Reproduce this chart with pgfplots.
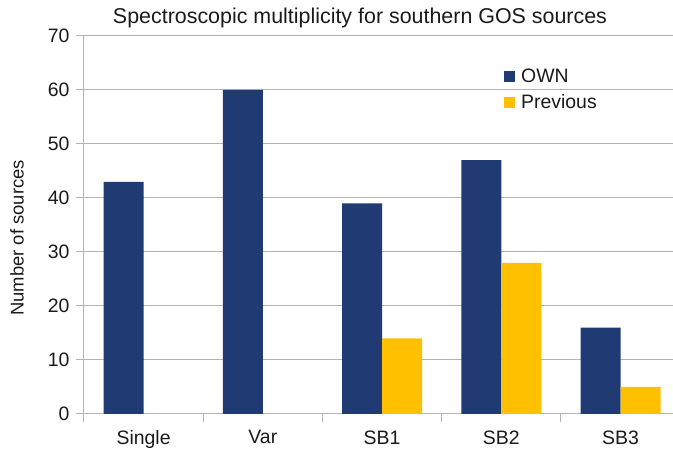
\documentclass[border=0pt]{standalone}
\usepackage{pgfplots}
\pgfplotsset{compat=1.18}
\usepackage{fontspec}
\setmainfont{Liberation Sans}
\definecolor{own}{HTML}{203B73}
\definecolor{prev}{HTML}{FFC000}
\definecolor{gridc}{HTML}{B3B3B3}
\definecolor{txt}{HTML}{1A1A1A}
\begin{document}
\begin{tikzpicture}
\begin{axis}[
 name=ax,
 scale only axis, width=589bp, height=378bp,
 xmin=-0.5, xmax=4.44, ymin=0, ymax=70,
 axis x line*=bottom, axis y line*=left,
 axis line style={gridc, line width=1bp, -},
 ytick={0,10,...,70},
 ymajorgrids, grid style={gridc, line width=1bp},
 xtick={0,1,2,3,4}, xticklabels={Single,Var,SB1,SB2,SB3},
 minor xtick={-0.5,0.5,1.5,2.5,3.5},
 major x tick style={draw=none},
 minor x tick style={gridc, line width=1bp},
 major y tick style={gridc, line width=1bp},
 tick align=outside,
 major tick length=8bp, minor tick length=8bp,
 tick label style={font=\fontsize{19.5}{23}\selectfont, text=txt},
 xticklabel style={yshift=-5bp},
 yticklabel style={xshift=-3bp},
 /pgf/number format/assume math mode=true,
 ybar, bar width=40bp,
 legend image code/.code={\fill[#1, draw=none] (0bp,-5.5bp) rectangle (11bp,5.5bp);},
 legend style={at={(0.713,0.915)}, anchor=north west, draw=none, fill=none,
   inner sep=0pt, row sep=8bp, font=\fontsize{19.5}{23}\selectfont, text=txt,
   nodes={inner xsep=6bp, inner ysep=1bp}},
 legend cell align=left,
]
\addplot[fill=own, draw=none, bar shift=-20bp] coordinates {(0,43) (1,60) (2,39) (3,47) (4,16)};
\addplot[fill=prev, draw=none, bar shift=20bp] coordinates {(2,14) (3,28) (4,5)};
\legend{OWN, Previous}
\end{axis}
\node[font=\fontsize{21.5}{25}\selectfont, text=txt] at ([shift={(276bp,18bp)}]ax.north west) {Spectroscopic multiplicity for southern GOS sources};
\node[font=\fontsize{18.5}{22}\selectfont, text=txt, rotate=90] at ([shift={(-67bp,176bp)}]ax.south west) {Number of sources};
\pgfresetboundingbox
\path ([shift={(-84bp,-39bp)}]ax.south west) rectangle ([shift={(0bp,36bp)}]ax.north east);
\end{tikzpicture}
\end{document}
